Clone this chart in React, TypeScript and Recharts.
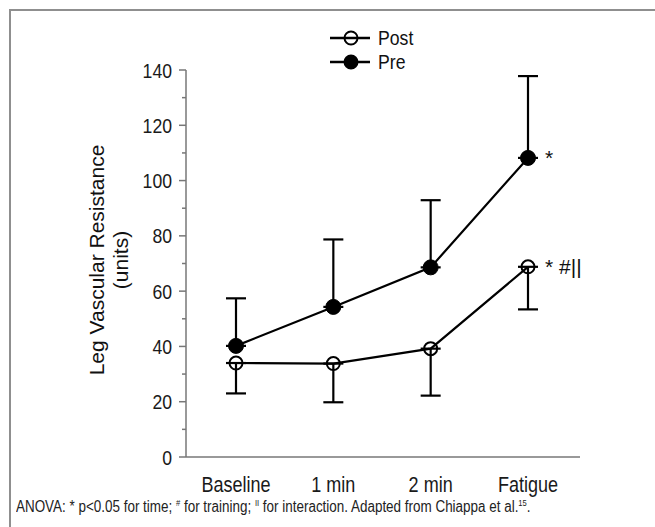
import { ErrorBar, Legend, Line, LineChart, XAxis, YAxis } from "recharts"

// no narrow sans installed, so Liberation Sans squeezed horizontally stands in for it
const FONT = '"Liberation Sans", Arial, sans-serif'
const NARROW = 0.84

const categories = ["Baseline", "1 min", "2 min", "Fatigue"]
const postMean = [34, 33.8, 39.2, 68.8]
const postLow = [23, 19.8, 22.2, 53.4]
const preMean = [40.2, 54.3, 68.6, 108.2]
const preHigh = [57.4, 78.7, 92.9, 137.8]
const postMarks = ["", "", "", "* #||"]
const preMarks = ["", "", "", "*"]
const yTicks = [0, 10, 20, 30, 40, 50, 60, 70, 80, 90, 100, 110, 120, 130, 140]

const chartData = categories.map((name, i) => ({
  name,
  post: postMean[i],
  postErr: [postMean[i] - postLow[i], 0],
  pre: preMean[i],
  preErr: [0, preHigh[i] - preMean[i]],
}))

function Narrow({ x, y, anchor = "start", size = 21, dy = "0", children }: any) {
  return (
    <text
      transform={`translate(${x} ${y}) scale(${NARROW} 1)`}
      dy={dy}
      textAnchor={anchor}
      fontSize={size}
      fontFamily={FONT}
      fill="#1a1a1a"
    >
      {children}
    </text>
  )
}

function YTick({ x, y, payload }: any) {
  const major = payload.value % 20 === 0
  return (
    <g>
      <line x1={x} x2={x - (major ? 7 : 4)} y1={y} y2={y} stroke="#777" strokeWidth={1.5} />
      {major && (
        <Narrow x={x - 14} y={y} dy="0.36em" anchor="end">
          {payload.value}
        </Narrow>
      )}
    </g>
  )
}

function XTick({ x, y, payload }: any) {
  return (
    <Narrow x={x} y={y + 35} anchor="middle" size={21.5}>
      {payload.value}
    </Narrow>
  )
}

function markLabel(marks: string[]) {
  return ({ x, y, index }: any) =>
    marks[index] ? (
      <text x={x + 17} y={y} dy="0.36em" fontSize={21} fontFamily={FONT} fill="#111">
        {marks[index]}
      </text>
    ) : null
}

function YLabel() {
  return (
    <g fontSize={21} fontFamily={FONT} fill="#111" textAnchor="middle">
      <text x={104} y={260} transform="rotate(-90 104 260)">Leg Vascular Resistance</text>
      <text x={128} y={260} transform="rotate(-90 128 260)">(units)</text>
    </g>
  )
}

function LegendBox({ payload }: any) {
  return (
    <div style={{ fontFamily: FONT, fontSize: 21, color: "#111" }}>
      {(payload || []).map((item: any) => {
        const filled = item.dataKey === "pre"
        return (
          <div key={item.value} style={{ display: "flex", alignItems: "center", height: 24 }}>
            <svg width={40} height={20}>
              <line x1={0} x2={40} y1={10} y2={10} stroke="#000" strokeWidth={2.5} />
              <circle cx={21} cy={10} r={6.5} fill={filled ? "#000" : "none"} stroke="#000" strokeWidth={2} />
            </svg>
            <span
              style={{
                marginLeft: 8,
                lineHeight: "24px",
                display: "inline-block",
                transform: `scaleX(${NARROW})`,
                transformOrigin: "0 50%",
              }}
            >
              {item.value}
            </span>
          </div>
        )
      })}
    </div>
  )
}

const supStyle = { fontSize: 9, position: "relative" as const, top: -6 }

export default function App() {
  return (
    <div style={{ position: "absolute", left: 0, top: 0, width: 655, height: 527, background: "#fff" }}>
      <div
        style={{
          position: "absolute",
          left: 9,
          top: 9,
          width: 646,
          height: 518,
          borderTop: "2px solid #8f8f8f",
          borderLeft: "2px solid #8f8f8f",
          boxSizing: "border-box",
        }}
      />
      <div style={{ position: "absolute", left: 0, top: 0 }}>
        <LineChart width={655} height={527} data={chartData} margin={{ top: 70, right: 75, bottom: 40, left: 126 }}>
          <XAxis
            dataKey="name"
            type="category"
            scale="point"
            padding={{ left: 50, right: 52 }}
            height={30}
            axisLine={{ stroke: "#777", strokeWidth: 1.5 }}
            tickLine={false}
            tickSize={0}
            tickMargin={0}
            tick={<XTick />}
            interval={0}
          />
          <YAxis
            width={60}
            domain={[0, 140]}
            ticks={yTicks}
            interval={0}
            axisLine={{ stroke: "#777", strokeWidth: 1.5 }}
            tickLine={false}
            tickSize={0}
            tickMargin={0}
            tick={<YTick />}
            label={<YLabel />}
          />
          <Legend
            layout="vertical"
            verticalAlign="middle"
            align="center"
            wrapperStyle={{ top: 26, left: 330, width: 120 }}
            content={<LegendBox />}
          />
          <Line
            dataKey="post"
            name="Post"
            stroke="#000"
            strokeWidth={2.2}
            dot={{ r: 6.5, fill: "none", stroke: "#000", strokeWidth: 2 }}
            activeDot={false}
            isAnimationActive={false}
            label={markLabel(postMarks)}
          >
            <ErrorBar dataKey="postErr" direction="y" width={10} stroke="#000" strokeWidth={2.2} />
          </Line>
          <Line
            dataKey="pre"
            name="Pre"
            stroke="#000"
            strokeWidth={2.2}
            dot={{ r: 7.5, fill: "#000", stroke: "#000", strokeWidth: 1 }}
            activeDot={false}
            isAnimationActive={false}
            label={markLabel(preMarks)}
          >
            <ErrorBar dataKey="preErr" direction="y" width={10} stroke="#000" strokeWidth={2.2} />
          </Line>
        </LineChart>
      </div>
      <div
        style={{
          position: "absolute",
          left: 16,
          top: 499,
          fontFamily: FONT,
          fontSize: 16,
          lineHeight: "15px",
          color: "#222",
          whiteSpace: "nowrap",
          transform: `scaleX(${NARROW})`,
          transformOrigin: "0 0",
        }}
      >
        ANOVA: * p&lt;0.05 for time; <span style={supStyle}>#</span> for training;{" "}
        <span style={supStyle}>II</span> for interaction. Adapted from Chiappa et al.
        <span style={supStyle}>15</span>.
      </div>
    </div>
  )
}
